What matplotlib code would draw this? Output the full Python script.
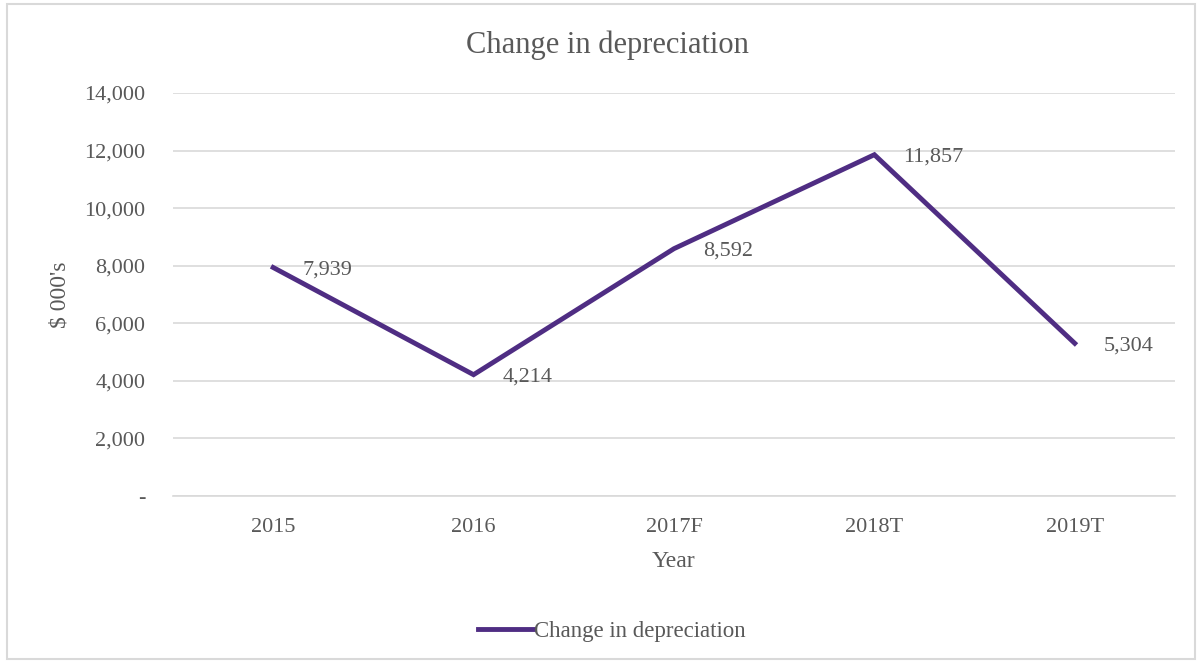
import matplotlib
matplotlib.use("Agg")
import matplotlib.pyplot as plt
from matplotlib.patches import Rectangle

plt.rcParams['font.family'] = ['Liberation Serif', 'DejaVu Serif']

years = ['2015', '2016', '2017F', '2018T', '2019T']
depreciation = [7939, 4214, 8592, 11857, 5304]
y_ticks = [0, 2000, 4000, 6000, 8000, 10000, 12000, 14000]

line_col = '#4f2d83'
text_col = '#595959'
grid_col = '#d9d9d9'


def plot():
    fig = plt.figure(figsize=(12.02, 6.63), dpi=100)
    ax = fig.add_axes([0.1439, 0.2519, 0.8336, 0.6078])

    x = list(range(len(years)))
    ax.plot(x, depreciation, color=line_col, lw=3.5, solid_joinstyle='miter',
            label='Change in depreciation', zorder=3)
    for xi, v in zip(x, depreciation):
        ax.annotate(f'{v:,}', (xi, v), xytext=(21, -2), textcoords='offset points',
                    ha='left', va='center', fontsize=16, color=text_col)

    ax.set_xlim(-0.5, len(years) - 0.5)
    ax.set_ylim(0, 14000)
    ax.set_xticks(x)
    ax.set_xticklabels(years)
    ax.set_yticks(y_ticks)
    ax.set_yticklabels(['-' if t == 0 else f'{t:,}' for t in y_ticks])
    ax.tick_params(length=0, labelsize=16, labelcolor=text_col)
    ax.tick_params(axis='x', pad=16)
    ax.tick_params(axis='y', pad=20)
    ax.grid(axis='y', color=grid_col, lw=1.2)
    ax.set_axisbelow(True)
    for s in ['top', 'right', 'left']:
        ax.spines[s].set_visible(False)
    ax.spines['bottom'].set_color(grid_col)
    ax.spines['bottom'].set_linewidth(1.2)

    ax.set_xlabel('Year', fontsize=17, color=text_col, labelpad=10)
    ax.set_ylabel("$ 000's", fontsize=17, color=text_col, labelpad=10)

    fig.text(0.505, 0.932, 'Change in depreciation', ha='center', va='center',
             fontsize=22, color=text_col)

    fig.legend(loc='center', bbox_to_anchor=(0.509, 0.048), frameon=False,
               fontsize=16.5, labelcolor=text_col, handlelength=2.4,
               handletextpad=0.05)

    fig.patches.append(Rectangle((0.006, 0.006), 0.988, 0.988,
                                 transform=fig.transFigure, fill=False,
                                 ec=grid_col, lw=1.5))

    fig.savefig('out.png', dpi=100)


if __name__ == "__main__":
    plot()
